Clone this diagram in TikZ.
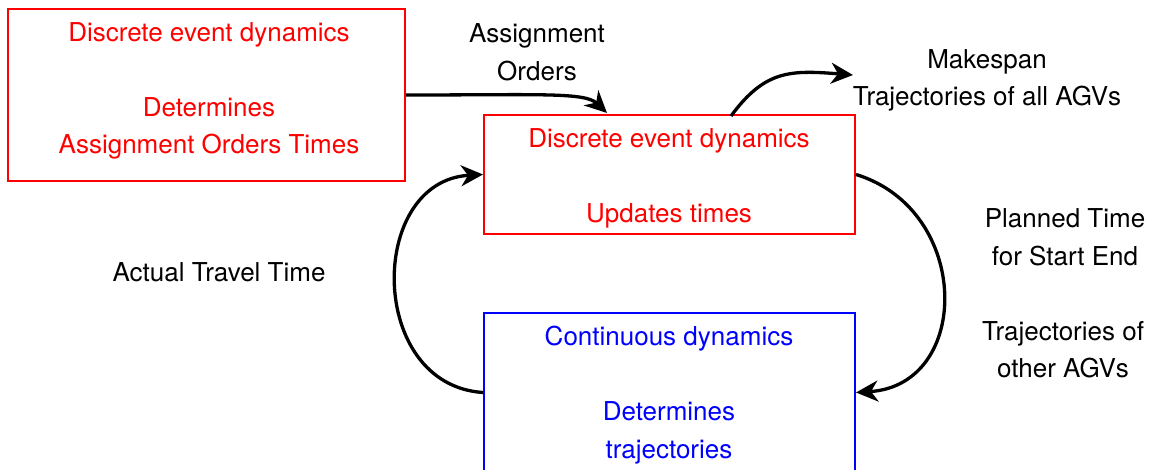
\documentclass[tikz,border=0pt]{standalone}
\usepackage{fontspec}
\setmainfont{TeX Gyre Heros}
\usetikzlibrary{arrows.meta}
\begin{document}
\begin{tikzpicture}[x=1pt,y=-1pt,
  every node/.style={font=\fontsize{26}{37.5}\selectfont, align=center, inner sep=0pt},
  redtxt/.style={text=red},
  bluetxt/.style={text=blue},
  conn/.style={line width=3.3pt, -{Stealth[length=22pt,width=21pt,inset=7pt]}}
]
\useasboundingbox (0,0) rectangle (1149,470);
\clip (0,0) rectangle (1149,470);
% boxes
\node[draw=red, line width=2pt, minimum width=397pt, minimum height=172pt] (b1) at (206.5,95) {};
\node[draw=red, line width=2pt, minimum width=371pt, minimum height=119pt] (b2) at (669.5,174.5) {};
\node[draw=blue, line width=2pt, minimum width=371pt, minimum height=159pt] (b3) at (669.5,392.5) {};
% box texts
\node[redtxt] (t1) at (209,91) {Discrete event dynamics\\[37.5pt]Determines\\Assignment Orders Times};
\node[redtxt] (t2) at (669,178) {Discrete event dynamics\\[37.5pt]Updates times};
\node[bluetxt] (t3) at (669,395) {Continuous dynamics\\[37.5pt]Determines\\trajectories};
% labels
\node (l1) at (537,52.5) {Assignment\\Orders};
\node (l2) at (987,80.5) {Makespan\\Trajectories of all AGVs};
\node (l3) at (1065,237.5) {Planned Time\\for Start End};
\node (l4) at (1063,349.5) {Trajectories of\\other AGVs};
\node (l5) at (219,272) {Actual Travel Time};
% connector ends
\coordinate (a1) at (607,113);
\coordinate (s2) at (731,116);
\coordinate (a2) at (853,75);
% connectors
\draw[conn] (b1.east) .. controls (540,95) and (585,92) .. (a1);
\draw[conn] (s2) .. controls (765,70) and (790,70) .. (a2);
\draw[conn] (b2.east) .. controls (972,210) and (972,385) .. (b3.east);
\draw[conn] (b3.west) .. controls (367,385) and (367,181) .. (b2.west);
\end{tikzpicture}
\end{document}
